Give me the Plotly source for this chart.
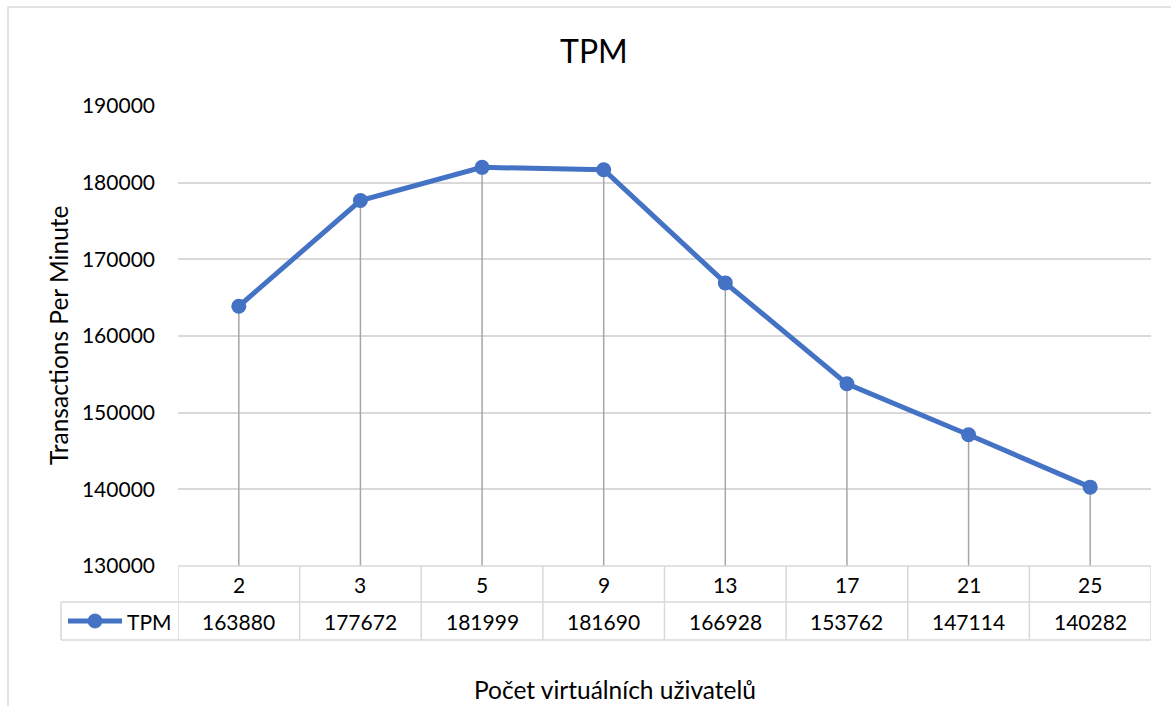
import plotly.graph_objects as go

categories = ["2", "3", "5", "9", "13", "17", "21", "25"]
tpm = [163880, 177672, 181999, 181690, 166928, 153762, 147114, 140282]
series_name = "TPM"
y_ticks = [130000, 140000, 150000, 160000, 170000, 180000, 190000]

FONT = "Lato"
BLUE = "#4472C4"
GRID = "#d9d9d9"
W, H = 1171, 706
L, R, T, B = 178, 20, 106, 140
PW, PH = W - L - R, H - T - B
YMIN, YMAX = 130000, 190000


def px(x):
    return (x - L) / PW


def py(y):
    return (H - B - y) / PH


fig = go.Figure()

# drop lines
dx, dy = [], []
for c, v in zip(categories, tpm):
    dx += [c, c, None]
    dy += [v, YMIN, None]
fig.add_trace(go.Scatter(x=dx, y=dy, mode="lines",
                         line=dict(color="#a6a6a6", width=1.5),
                         hoverinfo="skip", showlegend=False))

fig.add_trace(go.Scatter(x=categories, y=tpm, mode="lines+markers", name=series_name,
                         line=dict(color=BLUE, width=5),
                         marker=dict(color=BLUE, size=15), showlegend=False))

shapes = []
# chart border
shapes.append(dict(type="rect", xref="paper", yref="paper",
                   x0=px(8), x1=px(1180), y0=py(7), y1=py(720),
                   line=dict(color=GRID, width=1.5), layer="below"))
# table lines
n = len(categories)
tl = dict(color=GRID, width=1.5)
shapes.append(dict(type="line", xref="x", yref="paper", x0=-0.5, x1=n - 0.5, y0=py(566), y1=py(566), line=tl))
for yy in (602, 640):
    shapes.append(dict(type="line", xref="paper", yref="paper", x0=px(61), x1=1, y0=py(yy), y1=py(yy), line=tl))
for i in range(n + 1):
    shapes.append(dict(type="line", xref="x", yref="paper", x0=i - 0.5, x1=i - 0.5,
                       y0=py(566), y1=py(640), line=tl))
shapes.append(dict(type="line", xref="paper", yref="paper", x0=px(61), x1=px(61),
                   y0=py(602), y1=py(640), line=tl))
# legend key in table
shapes.append(dict(type="line", xref="paper", yref="paper", x0=px(68), x1=px(122),
                   y0=py(621), y1=py(621), line=dict(color=BLUE, width=5)))
shapes.append(dict(type="circle", xref="paper", yref="paper", x0=px(88), x1=px(102),
                   y0=py(614), y1=py(628), fillcolor=BLUE, line=dict(color=BLUE, width=1)))


def txt(x, y, text, size=21, xref="paper", xanchor="center", angle=0):
    return dict(x=x, y=y, xref=xref, yref="paper", text=text, showarrow=False,
                xanchor=xanchor, yanchor="middle", textangle=angle,
                font=dict(family=FONT, size=size, color="#000"))


ann = []
for i, (c, v) in enumerate(zip(categories, tpm)):
    ann.append(txt(i, py(584), c, xref="x"))
    ann.append(txt(i, py(621), str(v), xref="x"))
ann.append(txt(px(125), py(621), series_name, xanchor="left"))
ann.append(txt(px(594), py(50), "TPM", size=32))
ann.append(txt(px(58), py(336), "Transactions Per Minute", size=24.5, angle=-90))
ann.append(txt(px(615), py(689), "Počet virtuálních uživatelů", size=24.5))

fig.update_layout(
    width=W, height=H,
    margin=dict(l=L, r=R, t=T, b=B, pad=0),
    paper_bgcolor="white", plot_bgcolor="white",
    showlegend=False,
    shapes=shapes, annotations=ann,
    font=dict(family=FONT, size=21, color="#000"),
    xaxis=dict(type="category", range=[-0.5, n - 0.5], showticklabels=False,
               showgrid=False, zeroline=False, showline=False, ticks=""),
    yaxis=dict(range=[YMIN, YMAX], tickvals=y_ticks, ticktext=[str(t) for t in y_ticks],
               showgrid=True, gridcolor=GRID, gridwidth=1.5, zeroline=False,
               showline=False, ticks="", ticklabelstandoff=22,
               tickfont=dict(family=FONT, size=21, color="#000")),
)

fig.write_html("out.html")
